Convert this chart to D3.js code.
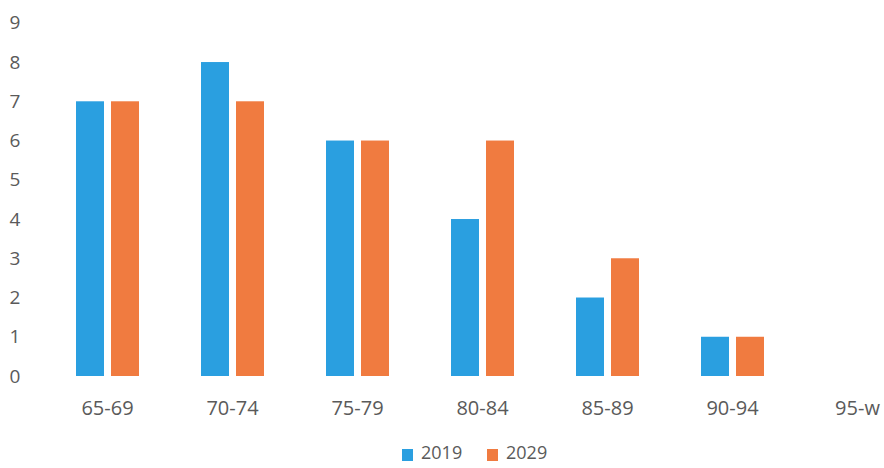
<!DOCTYPE html>
<html><head><meta charset="utf-8">
<script src="https://cdn.jsdelivr.net/npm/d3@7"></script>
<style>body{margin:0;background:#fff}svg{display:block}text{font-family:"Open Sans",sans-serif;fill:#5a5a5a}</style>
</head><body><svg id="c" width="884" height="468"></svg>
<script>
const categories = ["65-69","70-74","75-79","80-84","85-89","90-94","95-w"];
const seriesNames = ["2019","2029"];
const values2019 = [7,8,6,4,2,1,0];
const values2029 = [7,7,6,6,3,1,0];
const yTicks = [0,1,2,3,4,5,6,7,8,9];
const colors = ["#2a9fe0","#f07b40"];

const svg = d3.select("#c");
const x = d3.scaleBand().domain(categories).range([45,920]).paddingInner(0.496).paddingOuter(0.248);
const x1 = d3.scaleBand().domain(seriesNames).range([0,x.bandwidth()]).paddingInner(0.2);
const y = d3.scaleLinear().domain([0,9]).range([376,22.8]);

const data = [values2019, values2029];
categories.forEach((c,i)=>{
  seriesNames.forEach((s,j)=>{
    const v = data[j][i];
    if (v>0) svg.append("rect").attr("x",x(c)+x1(s)).attr("y",y(v)).attr("width",x1.bandwidth()).attr("height",y(0)-y(v)).attr("fill",colors[j]);
  });
});

svg.append("g").selectAll("text").data(yTicks).join("text")
  .attr("x",15).attr("y",d=>y(d)).attr("dy","0.35em").attr("text-anchor","middle")
  .attr("font-size",19).text(d=>d);

svg.append("g").selectAll("text").data(categories).join("text")
  .attr("x",d=>x(d)+x.bandwidth()/2).attr("y",408).attr("dy","0.35em").attr("text-anchor","middle")
  .attr("font-size",20).text(d=>d);

const lg = svg.append("g");
const lx = [402,487];
seriesNames.forEach((s,j)=>{
  lg.append("rect").attr("x",lx[j]).attr("y",449).attr("width",11).attr("height",12).attr("fill",colors[j]);
  lg.append("text").attr("x",lx[j]+19).attr("y",453).attr("dy","0.35em").attr("font-size",18).text(s);
});
</script></body></html>
